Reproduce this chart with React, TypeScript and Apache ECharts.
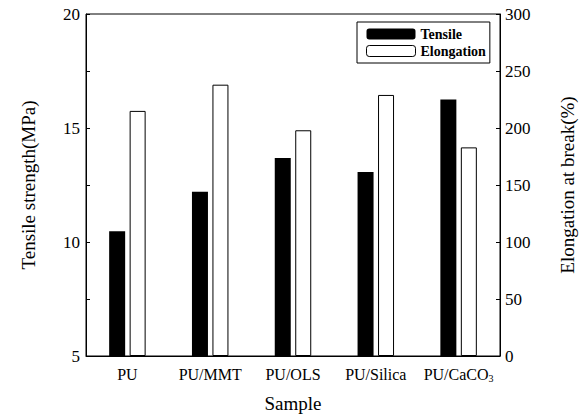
import React, { useEffect, useRef } from "react";
import * as echarts from "echarts";

const categories = ["PU", "PU/MMT", "PU/OLS", "PU/Silica", "PU/CaCO3"];
const tensile = [10.47, 12.2, 13.68, 13.07, 16.25];
const elongation = [215, 238, 198, 229, 183];
const leftTicks = { min: 5, max: 20, interval: 5 };
const rightTicks = { min: 0, max: 300, interval: 50 };

const FONT = "'Liberation Serif', 'Times New Roman', serif";

export default function App() {
  const ref = useRef<HTMLDivElement>(null);
  useEffect(() => {
    if (!ref.current) return;
    const chart = echarts.init(ref.current, null, { renderer: "svg" });
    chart.setOption({
      animation: false,
      backgroundColor: "#fff",
      textStyle: { fontFamily: FONT, color: "#000" },
      grid: {
        left: 86,
        right: 85,
        top: 14,
        bottom: 56,
        show: true,
        borderColor: "#000",
        borderWidth: 1,
      },
      legend: {
        left: 357,
        top: 22,
        orient: "vertical",
        itemWidth: 49,
        itemHeight: 11,
        itemGap: 3,
        padding: [5, 4, 5, 9],
        borderColor: "#000",
        borderWidth: 1,
        textStyle: { fontFamily: FONT, fontWeight: "bold", fontSize: 14, color: "#000" },
        data: [
          { name: "Tensile", itemStyle: { color: "#000" } },
          { name: "Elongation", itemStyle: { color: "#fff", borderColor: "#000", borderWidth: 1 } },
        ],
      },
      xAxis: {
        type: "category",
        data: categories,
        name: "Sample",
        nameLocation: "middle",
        nameGap: 38,
        nameTextStyle: { fontFamily: FONT, fontSize: 19, color: "#000" },
        axisLine: { lineStyle: { color: "#000", width: 1 } },
        axisTick: { alignWithLabel: true, length: 3, lineStyle: { color: "#000" } },
        axisLabel: {
          interval: 0,
          fontFamily: FONT,
          fontSize: 16,
          color: "#000",
          margin: 10,
          formatter: (v: string) => v.replace(/CaCO3$/, "CaCO{sub|3}"),
          rich: {
            sub: { fontFamily: FONT, fontSize: 10, color: "#000", padding: [7, 0, 0, 0] },
          },
        },
      },
      yAxis: [
        {
          type: "value",
          min: leftTicks.min,
          max: leftTicks.max,
          interval: leftTicks.interval,
          name: "Tensile strength(MPa)",
          nameLocation: "middle",
          nameGap: 48,
          nameTextStyle: { fontFamily: FONT, fontSize: 19, color: "#000" },
          axisLine: { show: true, lineStyle: { color: "#000" } },
          axisTick: { show: true, inside: true, length: 4, lineStyle: { color: "#000" } },
          minorTick: { show: true, splitNumber: 2, length: 4, lineStyle: { color: "#000" } },
          axisLabel: { fontFamily: FONT, fontSize: 17, color: "#000", margin: 6 },
          splitLine: { show: false },
        },
        {
          type: "value",
          min: rightTicks.min,
          max: rightTicks.max,
          interval: rightTicks.interval,
          name: "Elongation at break(%)",
          nameLocation: "middle",
          nameGap: 58,
          nameTextStyle: { fontFamily: FONT, fontSize: 19, color: "#000" },
          axisLine: { show: true, lineStyle: { color: "#000" } },
          axisTick: { show: true, inside: true, length: 4, lineStyle: { color: "#000" } },
          axisLabel: { fontFamily: FONT, fontSize: 17, color: "#000", margin: 5 },
          splitLine: { show: false },
        },
      ],
      series: [
        {
          name: "Tensile",
          type: "bar",
          yAxisIndex: 0,
          data: tensile,
          barWidth: 16,
          barGap: "28%",
          itemStyle: { color: "#000" },
        },
        {
          name: "Elongation",
          type: "bar",
          yAxisIndex: 1,
          data: elongation,
          barWidth: 16,
          barGap: "28%",
          itemStyle: { color: "#fff", borderColor: "#000", borderWidth: 1 },
        },
      ],
    });
    return () => chart.dispose();
  }, []);
  return <div ref={ref} style={{ width: 585, height: 418, position: "absolute", left: 0, top: 0 }} />;
}
